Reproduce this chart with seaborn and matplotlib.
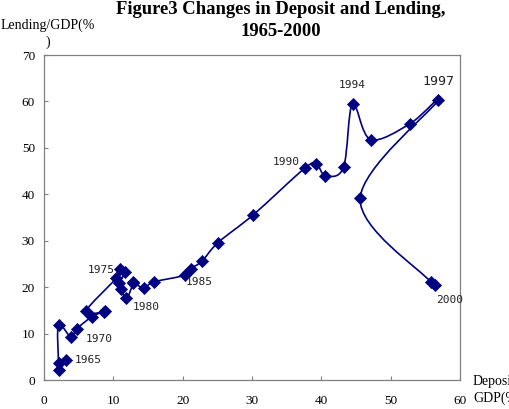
import matplotlib
matplotlib.use("Agg")
from matplotlib import pyplot as plt
from matplotlib.path import Path
from matplotlib.patches import PathPatch
import numpy as np
import pandas as pd
import seaborn as sns

years = list(range(1965, 2001))
deposit = [3.2, 2.2, 2.1, 2.1, 3.9, 4.7, 6.9, 8.8, 8.6, 6.1,
           10.4, 11.0, 11.7, 10.8, 11.1, 11.9, 12.9, 12.8, 14.4, 15.8,
           20.4, 21.2, 22.8, 25.1, 30.2, 37.6, 39.3, 40.6, 43.2, 44.5,
           47.1, 52.8, 56.9, 45.6, 55.8, 56.4]
lending = [4.3, 2.2, 3.7, 11.9, 9.2, 11.0, 13.6, 14.9, 14.6, 14.9,
           21.9, 24.0, 23.2, 20.8, 19.6, 17.6, 21.0, 21.2, 19.8, 21.1,
           22.6, 24.0, 25.6, 29.6, 35.6, 45.6, 46.5, 44.0, 45.8, 59.5,
           51.8, 55.2, 60.3, 39.1, 21.1, 20.4]
labeled_years = [1965, 1970, 1975, 1980, 1985, 1990, 1994, 1997, 2000]

df = pd.DataFrame({"Year": years, "Deposit": deposit, "Lending": lending})

navy = "#000080"
serif = ["Liberation Serif", "DejaVu Serif"]

fig = plt.figure(figsize=(5.09, 4.09), dpi=100)
ax = fig.add_axes([0.0864, 0.0709, 0.8173, 0.7946])

# smoothed line like the spreadsheet "smooth line" option (Catmull-Rom bezier)
pts = df[["Deposit", "Lending"]].to_numpy()
n = len(pts)
verts = [pts[0]]
codes = [Path.MOVETO]
for i in range(n - 1):
    p0 = pts[max(i - 1, 0)]
    p1 = pts[i]
    p2 = pts[i + 1]
    p3 = pts[min(i + 2, n - 1)]
    c1 = p1 + (p2 - p0) / 6.0
    c2 = p2 - (p3 - p1) / 6.0
    verts += [c1, c2, p2]
    codes += [Path.CURVE4] * 3
ax.add_patch(PathPatch(Path(verts, codes), facecolor="none", edgecolor=navy,
                       linewidth=1.2, zorder=2))

sns.scatterplot(data=df, x="Deposit", y="Lending", marker="D", s=38,
                color=navy, edgecolor=navy, linewidth=0.5, ax=ax, zorder=3)

offsets = {1965: (6, 0, "left", 8), 1970: (6.8, -7.6, "left", 8),
           1975: (-1, 6, "right", 8), 1980: (4.7, -6.3, "left", 8),
           1985: (0, -5, "left", 8), 1990: (-3.3, 4.6, "right", 8),
           1994: (0, 13.6, "center", 8), 1997: (0, 13.7, "center", 9.5),
           2000: (0.7, -10.8, "left", 8)}
for yr in labeled_years:
    row = df[df["Year"] == yr].iloc[0]
    dx, dy, ha, fs = offsets[yr]
    ax.annotate(str(yr), (row["Deposit"], row["Lending"]), xytext=(dx, dy),
                textcoords="offset points", ha=ha, va="center",
                fontsize=fs, family="DejaVu Sans Mono", color="#222222")

ax.set_xlim(0, 60)
ax.set_ylim(0, 70)
ax.set_xticks(range(0, 61, 10))
ax.set_yticks(range(0, 71, 10))
ax.set_xlabel("")
ax.set_ylabel("")
ax.tick_params(axis="both", direction="in", length=3, width=0.8, color="#808080",
               labelsize=9.5, top=False, right=False)
ax.tick_params(axis="x", pad=11)
ax.tick_params(axis="y", pad=6.5)
for lab in ax.get_xticklabels() + ax.get_yticklabels():
    lab.set_family(serif)
for sp in ax.spines.values():
    sp.set_color("#808080")
    sp.set_linewidth(0.9)

fig.text(0.552, 0.997, "Figure3 Changes in Deposit and Lending,\n1965-2000",
         ha="center", va="top", fontsize=13.4, fontweight="bold", family=serif,
         linespacing=1.4)
fig.text(48 / 509, 1 - 19 / 409, "Lending/GDP(%\n)", ha="center", va="top",
         fontsize=10, family=serif, linespacing=1.3)
fig.text(473 / 509, 1 - 375 / 409, "Deposit/\nGDP(%)", ha="left", va="top",
         fontsize=10, family=serif, linespacing=1.35)

plt.savefig("out.png", dpi=100)
